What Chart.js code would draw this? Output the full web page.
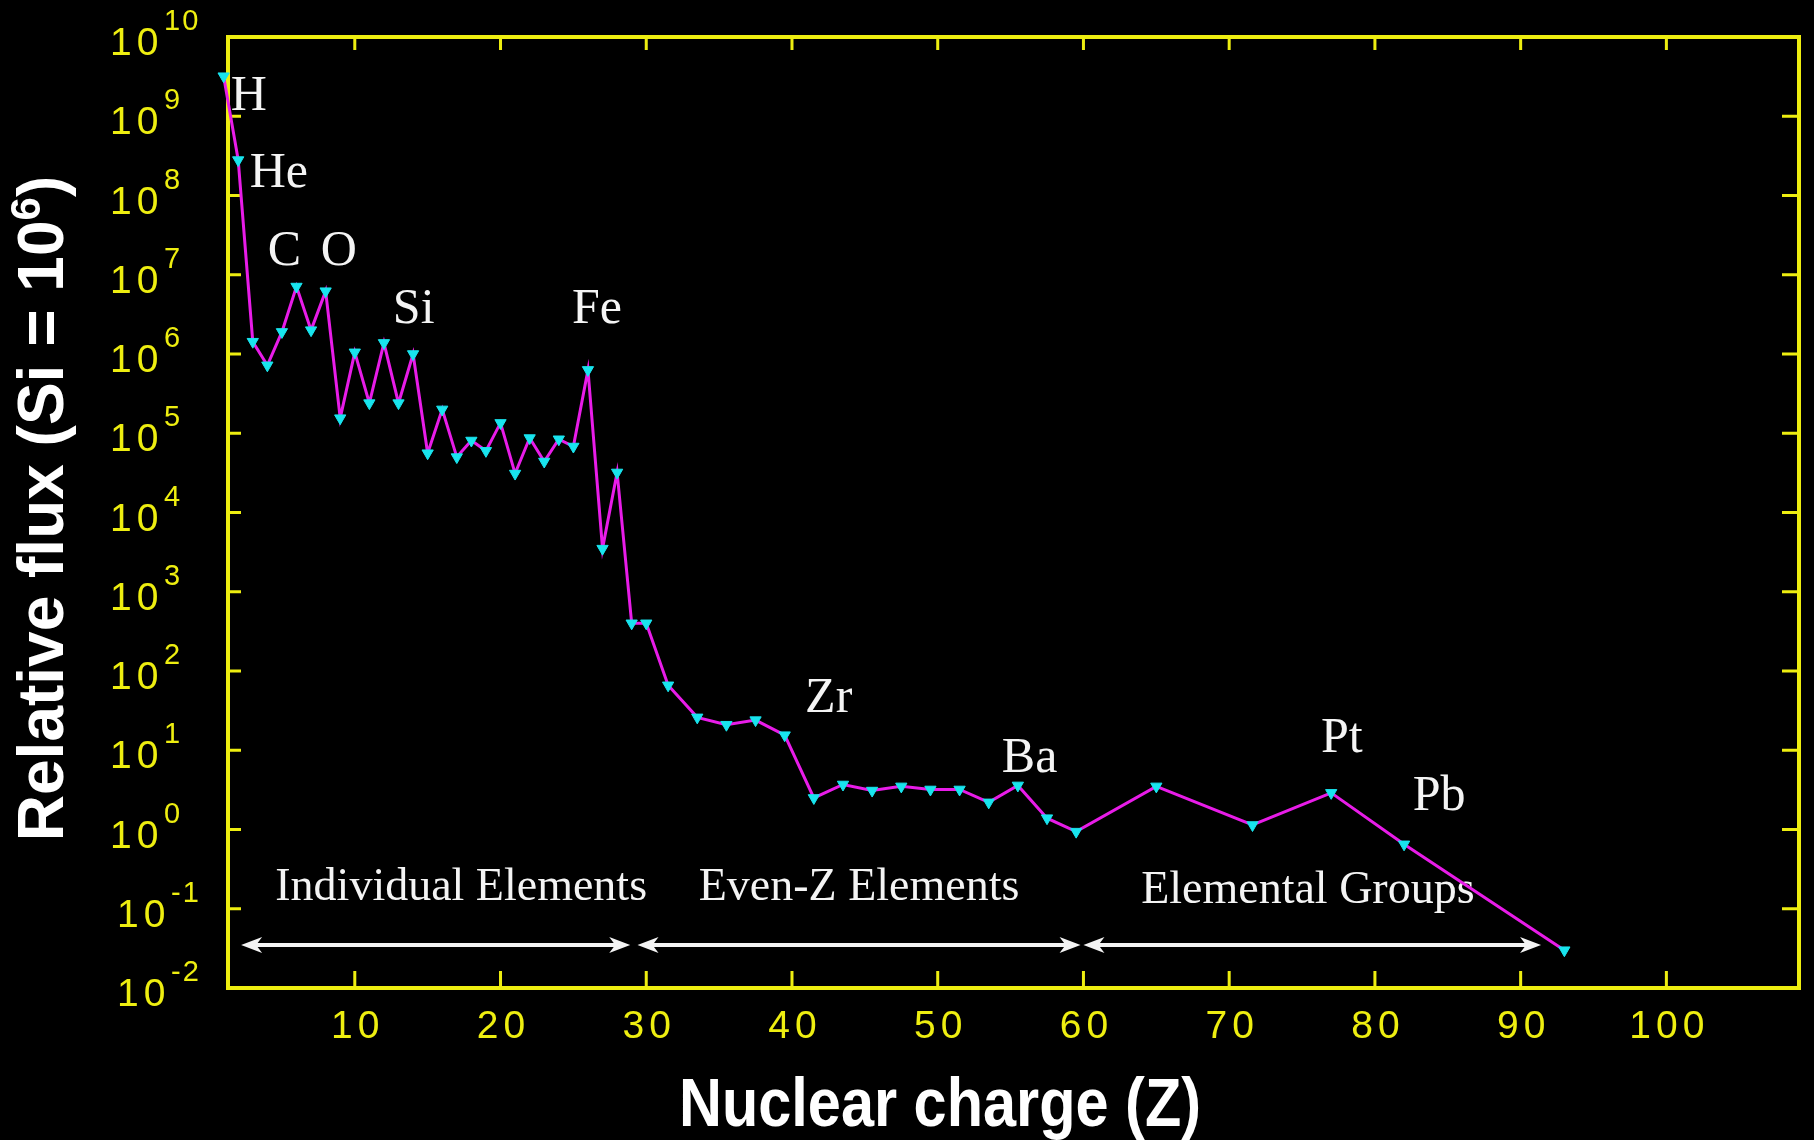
<!DOCTYPE html>
<html><head><meta charset="utf-8">
<script src="https://cdn.jsdelivr.net/npm/chart.js@4.4.1/dist/chart.umd.min.js"></script>
<style>html,body{margin:0;padding:0;background:#000;}canvas{display:block;}</style>
</head><body>
<canvas id="c" width="1814" height="1140" style="width:1814px;height:1140px"></canvas>
<script>
// ---- data ----
const charges = [1,2,3,4,5,6,7,8,9,10,11,12,13,14,15,16,17,18,19,20,21,22,23,24,25,26,27,28,29,30,
  31.5,33.5,35.5,37.5,39.5,41.5,43.5,45.5,47.5,49.5,51.5,53.5,55.5,57.5,59.5,
  65,71.6,77,82,93];
const relativeFlux = [3.2e9,2.8e8,1.43e6,7.2e5,1.9e6,7.1e6,2.0e6,6.2e6,1.55e5,1.05e6,
  2.4e5,1.38e6,2.4e5,1.0e6,5.6e4,2.0e5,5.0e4,8.1e4,6.0e4,1.35e5,
  3.1e4,8.7e4,4.4e4,8.4e4,6.8e4,6.3e5,3.5e3,3.2e4,4.0e2,4.0e2,
  66,26,21,24,15.5,2.5,3.7,3.1,3.5,3.2,3.2,2.2,3.6,1.39,0.94,
  3.5,1.14,2.9,0.65,0.030];
const xTickValues = [10,20,30,40,50,60,70,80,90,100];
const yTickExponents = [-2,-1,0,1,2,3,4,5,6,7,8,9,10];

const elementLabels = ['H','He','C','O','Si','Fe','Zr','Ba','Pt','Pb'];
const elementLabelZ = [1.49,2.79,4.03,7.67,12.61,24.9,40.9,54.4,76.3,82.6];
const elementLabelFlux = [1.2e9,1.28e8,1.33e7,1.33e7,2.46e6,2.46e6,30.4,5.32,9.5,1.76];

const regionLabels = ['Individual Elements','Even-Z Elements','Elemental Groups'];
const regionLabelZ = [17.3,44.6,75.4];
const regionLabelFlux = [0.129,0.129,0.117];
const regionArrowFrom = [2.2,29.4,60.0];
const regionArrowTo = [28.9,59.8,91.4];
const regionArrowFlux = 0.035;

const xTitle = 'Nuclear charge (Z)';
const yTitleMain = 'Relative flux (Si = 10';
const yTitleSup = '6';
const yTitleEnd = ')';

// ---- styles ----
const YELLOW = '#eeee10';
const WHITE = '#f4f4f4';
const MAGENTA = '#e81ce8';
const CYAN = '#18e4ee';

function arrowHead(ctx, tipX, y, dir) {
  ctx.beginPath();
  ctx.moveTo(tipX, y);
  ctx.lineTo(tipX - dir * 21, y - 8);
  ctx.lineTo(tipX - dir * 15, y);
  ctx.lineTo(tipX - dir * 21, y + 8);
  ctx.closePath();
  ctx.fill();
}

const decor = {
  id: 'decor',
  beforeDraw(chart) {
    const ctx = chart.ctx;
    ctx.fillStyle = '#000';
    ctx.fillRect(0, 0, chart.width, chart.height);
    // wider digit spacing for the axis numbers drawn by Chart.js
    if ('letterSpacing' in ctx) ctx.letterSpacing = '5px';
  },
  beforeDatasetsDraw(chart) {
    const {ctx, chartArea: a, scales: {x, y}} = chart;
    ctx.save();
    // frame
    ctx.strokeStyle = YELLOW;
    ctx.lineWidth = 4;
    ctx.strokeRect(a.left, a.top, a.right - a.left, a.bottom - a.top);
    // inward ticks
    ctx.lineWidth = 3;
    ctx.beginPath();
    xTickValues.forEach(v => {
      const px = x.getPixelForValue(v);
      ctx.moveTo(px, a.bottom); ctx.lineTo(px, a.bottom - 17);
      ctx.moveTo(px, a.top); ctx.lineTo(px, a.top + 13);
    });
    yTickExponents.forEach(e => {
      const py = y.getPixelForValue(Math.pow(10, e));
      ctx.moveTo(a.left, py); ctx.lineTo(a.left + 13, py);
      ctx.moveTo(a.right, py); ctx.lineTo(a.right - 17, py);
    });
    ctx.stroke();

    // y tick labels: 10 with superscript exponent
    ctx.fillStyle = YELLOW;
    ctx.textBaseline = 'alphabetic';
    yTickExponents.forEach(e => {
      const py = y.getPixelForValue(Math.pow(10, e));
      const shift = e < 0 ? 7 : 0;
      if ('letterSpacing' in ctx) ctx.letterSpacing = '5px';
      ctx.font = '39px "Liberation Sans", Arial, sans-serif';
      ctx.textAlign = 'left';
      ctx.fillText('10', a.left - 118 + shift, py + 18);
      if ('letterSpacing' in ctx) ctx.letterSpacing = '2px';
      ctx.font = '29px "Liberation Sans", Arial, sans-serif';
      ctx.fillText(String(e), a.left - 64 + shift, py - 7);
    });
    if ('letterSpacing' in ctx) ctx.letterSpacing = '0px';

    // axis titles
    ctx.fillStyle = '#ffffff';
    ctx.font = 'bold 68px "Liberation Sans", Arial, sans-serif';
    ctx.textAlign = 'center';
    let w = ctx.measureText(xTitle).width;
    ctx.save();
    ctx.translate(940, 1126);
    ctx.scale(522 / w, 1);
    ctx.fillText(xTitle, 0, 0);
    ctx.restore();

    ctx.save();
    ctx.translate(63, (a.top + a.bottom) / 2 - 4);
    ctx.rotate(-Math.PI / 2);
    ctx.font = 'bold 64px "Liberation Sans", Arial, sans-serif';
    const w1 = ctx.measureText(yTitleMain).width;
    const w3 = ctx.measureText(yTitleEnd).width;
    ctx.font = 'bold 42px "Liberation Sans", Arial, sans-serif';
    const w2 = ctx.measureText(yTitleSup).width;
    const total = w1 + w2 + w3;
    let cx = -total / 2;
    ctx.textAlign = 'left';
    ctx.font = 'bold 64px "Liberation Sans", Arial, sans-serif';
    ctx.fillText(yTitleMain, cx, 0); cx += w1;
    ctx.font = 'bold 42px "Liberation Sans", Arial, sans-serif';
    ctx.fillText(yTitleSup, cx, -23); cx += w2;
    ctx.font = 'bold 64px "Liberation Sans", Arial, sans-serif';
    ctx.fillText(yTitleEnd, cx, 0);
    ctx.restore();

    // element labels
    ctx.fillStyle = WHITE;
    ctx.textAlign = 'left';
    ctx.font = '50px "Liberation Serif", "Times New Roman", serif';
    elementLabels.forEach((t, i) => {
      ctx.fillText(t, x.getPixelForValue(elementLabelZ[i]), y.getPixelForValue(elementLabelFlux[i]));
    });

    // region labels
    ctx.textAlign = 'center';
    ctx.font = '46px "Liberation Serif", "Times New Roman", serif';
    regionLabels.forEach((t, i) => {
      ctx.fillText(t, x.getPixelForValue(regionLabelZ[i]), y.getPixelForValue(regionLabelFlux[i]));
    });

    // region arrows
    ctx.strokeStyle = WHITE;
    ctx.fillStyle = WHITE;
    ctx.lineWidth = 4;
    const ay = y.getPixelForValue(regionArrowFlux);
    regionArrowFrom.forEach((z0, i) => {
      const x0 = x.getPixelForValue(z0);
      const x1 = x.getPixelForValue(regionArrowTo[i]);
      ctx.beginPath();
      ctx.moveTo(x0 + 10, ay); ctx.lineTo(x1 - 10, ay);
      ctx.stroke();
      arrowHead(ctx, x0, ay, -1);
      arrowHead(ctx, x1, ay, 1);
    });
    ctx.restore();
  }
};

new Chart(document.getElementById('c'), {
  type: 'line',
  data: {
    datasets: [{
      data: charges.map((z, i) => ({x: z, y: relativeFlux[i]})),
      borderColor: MAGENTA,
      borderWidth: 3,
      tension: 0,
      pointStyle: 'triangle',
      rotation: 180,
      pointRadius: 6.5,
      pointBackgroundColor: CYAN,
      pointBorderColor: CYAN,
      pointBorderWidth: 1,
      clip: false
    }]
  },
  options: {
    responsive: false,
    animation: false,
    devicePixelRatio: 1,
    layout: { padding: { top: 37, right: 15, left: 0, bottom: 0 } },
    plugins: { legend: { display: false }, tooltip: { enabled: false } },
    scales: {
      x: {
        type: 'linear', min: 1.3, max: 109.1,
        afterBuildTicks: s => { s.ticks = xTickValues.map(v => ({value: v})); },
        afterFit: s => { s.height = 152; },
        grid: { display: false, drawTicks: false },
        border: { display: false },
        ticks: { color: YELLOW, font: { family: '"Liberation Sans", Arial, sans-serif', size: 39 }, padding: 16, labelOffset: 3, maxRotation: 0, autoSkip: false }
      },
      y: {
        type: 'logarithmic', min: 0.01, max: 1e10,
        afterBuildTicks: s => { s.ticks = yTickExponents.map(e => ({value: Math.pow(10, e)})); },
        afterFit: s => { s.width = 228; },
        grid: { display: false, drawTicks: false },
        border: { display: false },
        ticks: { display: false }
      }
    }
  },
  plugins: [decor]
});
</script>
</body></html>
